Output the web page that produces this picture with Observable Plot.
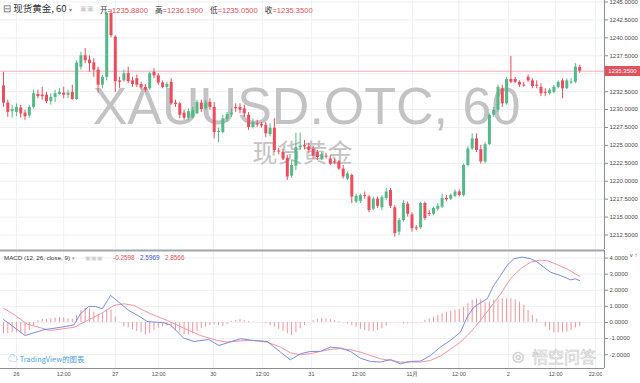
<!DOCTYPE html>
<html><head><meta charset="utf-8">
<script src="https://cdn.jsdelivr.net/npm/d3@7"></script>
<script src="https://cdn.jsdelivr.net/npm/@observablehq/plot@0.6"></script>
<style>
body{margin:0;background:#fff;}
#wrap{position:relative;width:640px;height:383px;overflow:hidden;font-family:"Liberation Sans",Arial,sans-serif;background:#fff;}
#wrap svg{display:block;}
.ov{position:absolute;white-space:nowrap;line-height:1;}
</style></head><body><div id="wrap"></div>
<script>
// ---- Data (hourly XAUUSD candles) ----
const opens = [1233.3,1230.9,1229.7,1229.6,1230.2,1229.5,1229.1,1230.3,1232.1,1232.0,
1232.0,1231.1,1231.7,1232.1,1232.3,1232.0,1232.4,1231.4,1235.9,1237.5,
1236.9,1236.5,1235.5,1233.4,1234.5,1243.4,1240.1,1234.0,1234.0,1235.0,
1234.0,1234.3,1233.5,1233.1,1232.9,1235.2,1234.7,1233.7,1233.1,1233.8,
1230.9,1230.8,1229.5,1228.8,1228.8,1229.4,1230.9,1230.1,1231.0,1230.3,
1226.8,1226.8,1228.6,1229.3,1230.3,1230.3,1230.1,1229.2,1227.5,1228.0,
1227.9,1227.8,1226.5,1227.4,1224.2,1224.0,1223.2,1220.7,1222.1,1224.7,
1225.0,1224.8,1224.5,1224.0,1223.1,1223.5,1223.1,1222.7,1222.7,1221.7,
1220.3,1220.8,1217.1,1217.2,1218.0,1217.8,1216.1,1217.5,1216.3,1217.6,
1218.7,1216.3,1212.9,1214.5,1216.8,1215.3,1213.5,1213.5,1216.9,1215.5,
1215.4,1216.1,1216.4,1217.6,1217.5,1217.9,1218.5,1218.0,1222.2,1224.5,
1225.9,1224.4,1222.7,1225.1,1229.2,1229.9,1232.9,1230.8,1234.2,1234.2,
1233.8,1233.4,1234.5,1234.0,1233.4,1233.1,1232.4,1232.2,1232.4,1233.1,
1234.0,1232.9,1233.7,1233.8,1235.88];
const highs = [1235.2,1231.3,1230.6,1230.8,1230.6,1229.9,1230.6,1232.7,1232.7,1233.1,
1232.4,1232.2,1232.7,1232.9,1233.1,1232.7,1233.4,1236.8,1238.0,1238.5,
1237.5,1237.1,1235.9,1234.8,1243.6,1243.8,1240.3,1234.5,1235.5,1235.9,
1234.5,1234.8,1233.8,1233.5,1235.2,1235.7,1235.0,1234.0,1233.8,1234.3,
1231.3,1231.0,1229.9,1230.1,1230.3,1231.3,1231.3,1231.3,1231.5,1231.0,
1227.4,1229.2,1229.6,1230.1,1230.8,1230.8,1230.6,1229.6,1228.7,1228.5,
1228.2,1228.2,1228.0,1228.7,1224.6,1224.5,1223.6,1222.9,1226.7,1226.7,
1225.7,1225.3,1224.9,1224.3,1224.0,1223.9,1223.6,1223.1,1222.9,1222.2,
1221.3,1221.0,1218.2,1218.2,1218.5,1218.0,1217.8,1217.8,1218.0,1219.0,
1219.0,1216.6,1214.8,1217.3,1217.1,1215.6,1213.8,1217.1,1217.1,1215.9,
1216.4,1216.9,1218.2,1218.0,1218.2,1218.8,1218.8,1222.4,1224.8,1226.6,
1226.6,1225.0,1225.4,1229.4,1230.3,1233.4,1233.4,1234.5,1237.4,1234.5,
1234.0,1233.8,1234.8,1234.3,1234.0,1233.6,1232.9,1232.9,1233.4,1234.0,
1234.3,1234.3,1234.3,1236.4,1236.19];
const lows = [1230.3,1228.9,1228.8,1229.0,1228.8,1228.5,1228.8,1230.1,1231.5,1231.3,
1230.8,1230.6,1231.0,1232.0,1231.5,1231.5,1231.3,1231.3,1235.5,1236.4,
1235.2,1234.5,1232.3,1232.9,1234.0,1240.0,1232.4,1232.9,1233.8,1233.6,
1233.1,1233.1,1232.7,1232.4,1232.7,1234.3,1233.4,1232.9,1232.9,1230.6,
1230.3,1228.7,1228.5,1228.5,1228.7,1229.3,1229.6,1229.9,1229.9,1225.9,
1225.4,1226.6,1228.2,1228.9,1229.6,1229.4,1228.9,1227.1,1227.3,1227.5,
1227.4,1226.1,1226.2,1224.0,1223.7,1222.9,1220.1,1220.4,1221.5,1224.3,
1224.4,1223.9,1223.1,1222.9,1222.9,1223.1,1222.2,1222.3,1221.5,1220.3,
1220.1,1216.9,1216.9,1216.9,1217.5,1215.6,1215.9,1216.2,1215.9,1217.3,
1216.2,1212.2,1212.4,1214.3,1215.0,1212.9,1213.1,1213.3,1214.5,1215.1,
1215.2,1215.8,1216.2,1217.2,1217.3,1217.7,1217.8,1217.8,1222.0,1224.3,
1224.0,1222.4,1222.4,1225.0,1228.9,1229.6,1230.3,1230.6,1233.6,1233.6,
1233.1,1233.1,1233.8,1232.9,1232.9,1231.8,1231.8,1232.0,1232.2,1232.9,
1231.5,1232.8,1233.5,1233.6,1235.05];
const closes = [1230.9,1229.6,1230.0,1230.3,1229.4,1229.0,1230.3,1232.2,1231.8,1231.8,
1231.1,1231.7,1232.2,1232.4,1232.0,1232.3,1231.4,1236.5,1237.5,1236.8,
1236.4,1235.5,1233.4,1234.5,1243.4,1240.3,1233.9,1233.8,1235.0,1233.9,
1233.5,1233.4,1233.0,1232.7,1235.0,1234.7,1233.7,1233.1,1233.5,1230.8,
1230.7,1229.2,1228.8,1229.7,1229.9,1231.0,1230.0,1230.9,1230.3,1226.8,
1226.9,1228.7,1229.3,1229.5,1230.1,1229.9,1229.4,1227.5,1228.2,1227.9,
1227.7,1226.6,1227.4,1224.3,1224.1,1223.1,1220.6,1222.2,1224.7,1224.9,
1224.8,1224.3,1223.5,1223.3,1223.7,1223.4,1222.4,1222.6,1221.7,1220.6,
1221.0,1217.8,1217.9,1218.0,1217.9,1215.9,1217.5,1216.5,1217.7,1218.5,
1216.5,1212.7,1214.5,1216.9,1215.4,1213.4,1213.4,1216.9,1214.8,1215.4,
1216.2,1216.5,1217.6,1217.4,1218.0,1218.5,1218.0,1222.2,1224.5,1225.9,
1224.3,1222.7,1225.1,1229.2,1229.9,1233.1,1230.8,1234.2,1233.8,1233.8,
1233.4,1233.3,1234.0,1233.2,1233.3,1232.2,1232.3,1232.7,1233.1,1233.8,
1232.9,1234.0,1233.8,1235.9,1235.35];

// MACD (12, 26, close, 9) – histogram per bar, lines sampled at bar positions
const histVals = [-0.70,-0.70,-0.64,-0.64,-0.70,-0.77,-0.50,-0.19,0.12,0.19,
0.19,0.23,0.27,0.31,0.29,0.23,0.19,0.43,0.75,0.89,
0.85,0.64,0.48,0.54,0.75,0.75,0.33,0.02,-0.29,-0.35,
-0.43,-0.56,-0.64,-0.77,-0.70,-0.50,-0.35,-0.29,-0.23,-0.35,
-0.50,-0.64,-0.77,-0.77,-0.70,-0.56,-0.39,-0.29,-0.19,-0.14,
-0.19,-0.25,-0.14,0.06,0.12,0.19,0.12,0.06,0.02,-0.02,
-0.02,-0.08,-0.19,-0.29,-0.43,-0.56,-0.70,-0.81,-0.64,-0.39,
-0.19,-0.02,0.12,0.19,0.23,0.23,0.19,0.12,0.06,-0.02,
-0.10,-0.19,-0.29,-0.43,-0.50,-0.56,-0.56,-0.50,-0.39,-0.23,
-0.02,0.02,-0.02,-0.10,-0.08,-0.04,-0.04,-0.02,0.12,0.23,
0.33,0.43,0.54,0.64,0.70,0.75,0.81,0.95,1.16,1.37,
1.47,1.43,1.22,1.26,1.37,1.41,1.47,1.47,1.47,1.41,
1.26,1.06,0.75,0.43,0.19,-0.02,-0.29,-0.50,-0.64,-0.64,
-0.64,-0.60,-0.50,-0.35,-0.2598];
const macdBars = [0,5,9.4,13.3,16.4,17.9,19.8,21.4,23,24.9,26.8,29.1,31.9,33.4,37.3,38.8,41.9,44.3,47.7,50.1,55.1,58.2,61.3,64.4,66.7,69.1,71.4,73.7,76,78.4,80.7,83,85.3,87.7,90,92.3,94.7,97,99.3,101.6,103.9,106.3,107.8,109.4,110.9,112.5,114,115.6,117.1,118.7,120.6,122.6,124.1,125.7,127.2,129.5,131.9,133,134];
const macdVals = [0.19,-0.81,-0.45,-0.30,-0.15,0.54,0.99,0.99,0.85,1.68,1.26,0.75,0.33,0.06,-0.02,-0.15,-0.97,-1.18,-1.06,-1.43,-1.01,-1.12,-1.18,-1.84,-2.32,-1.94,-1.80,-1.80,-1.53,-1.59,-1.80,-2.22,-2.42,-2.46,-2.30,-2.57,-2.42,-2.40,-2.05,-1.53,-1.12,-0.60,0.33,0.95,1.22,1.47,2.30,2.92,3.54,3.96,4.06,3.96,3.75,3.43,3.12,2.92,2.65,2.71,2.5969];
const signalBars = [0,2.4,5.5,10.9,16.4,19.5,22.6,25.7,28,30.3,34.2,38.1,41.9,45.8,49.7,52,55.1,58.2,61.3,64.4,66.7,69.1,71.4,73.7,76,78.4,80.7,83,85.3,87.7,90,92.3,94.7,97,99.3,101.6,103.9,106.3,108.6,110.9,113.3,115.6,117.9,120.2,122.6,124.7,126.6,128.9,131.3,134];
const signalVals = [0.89,0.50,-0.10,-0.50,-0.30,0.12,0.54,1.06,1.16,1.06,0.54,0.12,-0.35,-0.81,-1.12,-1.22,-1.14,-1.12,-1.22,-1.53,-1.88,-2.01,-1.94,-1.80,-1.67,-1.63,-1.69,-1.84,-2.05,-2.26,-2.36,-2.46,-2.46,-2.46,-2.36,-2.09,-1.67,-1.22,-0.60,0.12,0.95,1.78,2.71,3.33,3.75,3.87,3.83,3.58,3.29,2.8566];

// Axes
const priceTicks = [1212.5,1215,1217.5,1220,1222.5,1225,1227.5,1230,1232.5,1235,1237.5,1240,1242.5,1245];
const macdTicks = [-2,-1,0,1,2,3,4];
const timeTickBars = [3.0,14.0,26.0,36.1,48.8,60.2,71.6,82.6,95.1,105.9,117.4,128.4,137.7];
const timeTickLabels = ["26","12:00","27","12:00","30","12:00","31","12:00","11月","12:00","2","12:00","22:00"];

const symbolName = "现货黄金", interval = "60", ticker = "XAUUSD.OTC";

// ---- Build ----
const UP = "#53b987", DOWN = "#eb4d5c", GRID = "#eef0f4", AX = "#8a8d93", TXT = "#4a4a4a";
const candles = opens.map((o, i) => ({i, o, h: highs[i], l: lows[i], c: closes[i]}));
const minBody = 0.14;
const bodyEnd = d => Math.abs(d.c - d.o) < minBody ? d.o + (d.c >= d.o ? minBody : -minBody) : d.c;
const ups = candles.filter(d => d.c >= d.o), downs = candles.filter(d => d.c < d.o);
const last = candles[candles.length - 1];
const xDomain = [-0.7, 139.77];
const labelMap = new Map(timeTickBars.map((b, k) => [b, timeTickLabels[k]]));
const font = '"Liberation Sans", Arial, sans-serif';
const yDomain = [1210.48, 1245.21];
const pxPerUnit = 249 / (yDomain[1] - yDomain[0]);
// the last-price tag hides the tick label it sits on
const shownPriceTicks = priceTicks.filter(t => Math.abs(t - last.c) * pxPerUnit > 6);

const main = Plot.plot({
  width: 640, height: 249, marginTop: 0, marginBottom: 0, marginLeft: 0, marginRight: 36,
  style: {fontFamily: font, fontSize: "6px", color: TXT, background: "transparent", overflow: "visible"},
  x: {domain: xDomain, axis: null},
  y: {domain: yDomain, axis: null},
  marks: [
    Plot.gridY(priceTicks, {stroke: GRID, strokeOpacity: 1}),
    Plot.gridX(timeTickBars, {stroke: GRID, strokeOpacity: 1}),
    Plot.text([`${ticker}, ${interval}`], {frameAnchor: "middle", dx: 4, dy: -18, fontSize: 52, fill: "#c3c3c3", fontFamily: font}),
    Plot.text([symbolName], {frameAnchor: "middle", dx: 0, dy: 29, fontSize: 25, fill: "#c3c3c3", fontFamily: '"Noto Sans CJK SC", sans-serif'}),
    Plot.ruleY([last.c], {stroke: "#f2aab2", strokeWidth: 1}),
    Plot.ruleX(ups, {x: "i", y1: "l", y2: "h", stroke: UP, strokeWidth: 1}),
    Plot.ruleX(downs, {x: "i", y1: "l", y2: "h", stroke: DOWN, strokeWidth: 1}),
    Plot.ruleX(ups, {x: "i", y1: "o", y2: bodyEnd, stroke: UP, strokeWidth: 3}),
    Plot.ruleX(downs, {x: "i", y1: "o", y2: bodyEnd, stroke: DOWN, strokeWidth: 3}),
    Plot.axisY(shownPriceTicks, {anchor: "right", tickSize: 3, tickPadding: 2, stroke: AX, fill: TXT, tickFormat: d => d.toFixed(4)}),
    Plot.ruleX([xDomain[1]], {stroke: AX})
  ]
});

const macdDomain = [-2.86, 4.47];
const macd = Plot.plot({
  width: 640, height: 134, marginTop: 1, marginBottom: 15, marginLeft: 0, marginRight: 36,
  style: {fontFamily: font, fontSize: "6px", color: TXT, background: "transparent", overflow: "visible"},
  x: {domain: xDomain, axis: null},
  y: {domain: macdDomain, axis: null},
  marks: [
    Plot.gridY(macdTicks, {stroke: GRID, strokeOpacity: 1}),
    Plot.gridX(timeTickBars, {stroke: GRID, strokeOpacity: 1}),
    Plot.ruleX(histVals.map((v, i) => ({i, v})), {x: "i", y1: 0, y2: "v", stroke: "#f0949c", strokeWidth: 1}),
    Plot.line(signalBars.map((b, k) => ({b, v: signalVals[k]})), {x: "b", y: "v", stroke: "#f3959a", strokeWidth: 1}),
    Plot.line(macdBars.map((b, k) => ({b, v: macdVals[k]})), {x: "b", y: "v", stroke: "#7a89e6", strokeWidth: 1}),
    Plot.axisY(macdTicks, {anchor: "right", tickSize: 3, tickPadding: 2, stroke: AX, fill: TXT, tickFormat: d => d.toFixed(4)}),
    Plot.axisX(timeTickBars, {anchor: "bottom", tickSize: 0, tickPadding: 4, fill: TXT, fontSize: 5.5, tickFormat: d => labelMap.get(d)}),
    Plot.ruleY([macdDomain[0]], {stroke: AX}),
    Plot.ruleY([macdDomain[1]], {stroke: "#a3a6ad", strokeWidth: 2}),
    Plot.ruleX([xDomain[1]], {stroke: AX})
  ]
});

const wrap = document.getElementById("wrap");
wrap.appendChild(main);
wrap.appendChild(macd);

function ov(html, css) {
  const d = document.createElement("div");
  d.className = "ov";
  d.innerHTML = html;
  Object.assign(d.style, css);
  wrap.appendChild(d);
  return d;
}
const RED = "#e0505c";
// header
ov(`<span style="color:#666">⊟</span> ${symbolName}, ${interval} <span style="font-size:6px;color:#888">▾</span>`,
   {left: "3px", top: "4px", fontSize: "9.5px", color: "#333", fontFamily: '"Noto Sans CJK SC", sans-serif'});
ov(`<span style="color:#ccc">▣▣</span>`, {left: "80px", top: "5px", fontSize: "7px"});
const ohlc = [["开", last.o], ["高", last.h], ["低", last.l], ["收", last.c]];
ov(ohlc.map(([k, v]) => `<span style="color:#333;font-family:'Noto Sans CJK SC'">${k}</span><span style="color:${RED}">=${v.toFixed(4)}</span>`).join('<span style="display:inline-block;width:7px"></span>'),
   {left: "100px", top: "6px", fontSize: "7.6px"});
// last price tag
const yTag = main.scale("y").apply(last.c);
ov(last.c.toFixed(4), {left: "605px", top: (yTag - 5) + "px", width: "35px", height: "10px", lineHeight: "10px",
   background: "#e2525d", color: "#fff", fontSize: "6px", textAlign: "center"});
// MACD header
const hv = histVals[histVals.length - 1], mv = macdVals[macdVals.length - 1], sv = signalVals[signalVals.length - 1];
ov(`MACD (12, 26, close, 9) <span style="color:#999;font-size:5px">▾</span>`, {left: "4px", top: "255px", fontSize: "6.2px", color: "#333"});
ov(`<span style="color:#ccc">▣▣▣</span>`, {left: "85px", top: "255px", fontSize: "6px"});
ov(`<span style="color:${RED}">${hv.toFixed(4)}</span>&nbsp;&nbsp;&nbsp;<span style="color:#3f51d6">${mv.toFixed(4)}</span>&nbsp;&nbsp;&nbsp;<span style="color:${RED}">${sv.toFixed(4)}</span>`,
   {left: "113px", top: "255px", fontSize: "6.4px"});
// logos / watermarks
ov(`<span style="font-size:10px">☁</span> TradingView的图表`, {left: "8px", top: "353px", fontSize: "7.4px", color: "#4aa1dd", fontFamily: '"Noto Sans CJK SC", sans-serif'});
ov(`悟空问答`, {left: "532px", top: "348px", fontSize: "16px", color: "rgba(255,255,255,0.85)",
   webkitTextStroke: "0.6px #c8c8c8", fontFamily: '"Noto Sans CJK SC", sans-serif'});
ov(`◎`, {left: "512px", top: "349px", fontSize: "14px", color: "rgba(255,255,255,0.85)", webkitTextStroke: "0.6px #c8c8c8"});
// clip of the last time label at the price-axis edge
ov("", {left: "602px", top: "369px", width: "38px", height: "14px", background: "#fff"});
</script></body></html>
